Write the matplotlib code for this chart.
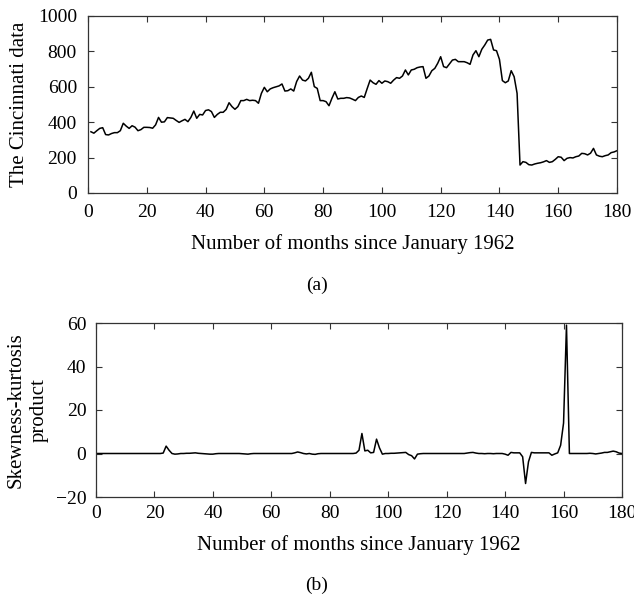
import numpy as np
import matplotlib.pyplot as plt

plt.rcParams['font.family'] = ['Liberation Serif', 'DejaVu Serif']
plt.rcParams['font.size'] = 14

# Monthly Cincinnati data, months 1..180
months_a = np.arange(1, 181)
cincinnati = [
    346, 338, 352, 365, 369, 330, 328, 336, 341, 341,
    352, 394, 378, 365, 380, 372, 352, 358, 371, 371,
    370, 366, 385, 427, 400, 402, 426, 424, 422, 410,
    399, 408, 416, 403, 427, 463, 422, 444, 441, 466,
    470, 460, 427, 444, 456, 456, 472, 510, 488, 473,
    488, 522, 522, 529, 522, 524, 522, 507, 563, 597,
    572, 588, 595, 600, 605, 616, 576, 578, 588, 576,
    630, 661, 638, 633, 648, 682, 601, 591, 522, 522,
    516, 493, 535, 572, 531, 535, 535, 539, 537, 530,
    522, 540, 548, 540, 590, 638, 623, 614, 635, 620,
    633, 629, 620, 638, 652, 648, 661, 695, 667, 695,
    699, 708, 712, 714, 648, 661, 691, 704, 733, 770,
    714, 708, 729, 751, 755, 742, 742, 742, 736, 727,
    780, 804, 770, 812, 836, 864, 868, 808, 804, 755,
    635, 623, 633, 691, 657, 563, 158, 177, 173, 160,
    158, 164, 168, 171, 176, 183, 173, 177, 190, 205,
    202, 183, 196, 200, 198, 205, 209, 224, 222, 215,
    225, 252, 215, 208, 205, 211, 215, 228, 232, 239,
]

# Skewness-kurtosis product, months 0..180
months_b = np.arange(0, 181)
sk_product = [
    0, 0, 0, 0, 0, 0, 0, 0, 0, 0,
    0, 0, 0, 0, 0, 0, 0, 0, 0, 0,
    0, 0, 0, 0.2, 3.4, 1.5, 0, -0.3, -0.2, 0,
    0, 0.1, 0.1, 0.2, 0.3, 0.1, 0, -0.1, -0.2, -0.3,
    -0.3, -0.1, 0, 0, 0, 0, 0, 0, 0, 0,
    -0.1, -0.2, -0.3, -0.1, 0, 0, 0, 0, 0, 0,
    0, 0, 0, 0, 0, 0, 0, 0, 0.3, 0.7,
    0.4, 0, -0.2, 0, -0.3, -0.4, -0.1, 0, 0, 0,
    0, 0, 0, 0, 0, 0, 0, 0, 0, 0.2,
    1.5, 9.2, 1.2, 1.5, 0.3, 0.5, 6.6, 2.6, -0.3, 0,
    0, 0.1, 0.1, 0.2, 0.3, 0.4, 0.5, -0.5, -1.0, -2.5,
    -0.3, -0.1, 0, 0, 0, 0, 0, 0, 0, 0,
    0, 0, 0, 0, 0, 0, 0, 0.2, 0.4, 0.5,
    0.2, 0, 0, -0.1, 0, 0, -0.1, 0, 0, 0,
    -0.3, -0.8, 0.5, 0.3, 0.3, 0.3, -1.5, -13.8, -3.8, 0.5,
    0.3, 0.3, 0.3, 0.3, 0.3, 0.3, -0.8, -0.2, 0.3, 3.8,
    14, 59, 0, 0, 0, 0, 0, 0, 0, 0.1,
    0, -0.2, 0, 0.2, 0.5, 0.5, 0.8, 1.1, 0.8, 0.2,
    0,
]

xlabel = 'Number of months since January 1962'

fig = plt.figure(figsize=(6.34, 6.01), dpi=100)
ax1 = fig.add_axes([88/634, 1 - 193/601, 529/634, 177/601])
ax2 = fig.add_axes([96/634, 1 - 497/601, 526/634, 174/601])

for ax in (ax1, ax2):
    ax.tick_params(direction='in', top=True, right=True, length=4,
                   width=0.8, color='#333333')
    for s in ax.spines.values():
        s.set_color('#333333')
        s.set_linewidth(0.9)

# (a) data
ax1.plot(months_a, cincinnati, color='black', linewidth=1.1)
ax1.set_xlim(0, 180)
ax1.set_ylim(0, 1000)
ax1.set_xticks(np.arange(0, 181, 20))
ax1.set_yticks(np.arange(0, 1001, 200))
ax1.tick_params(axis='x', pad=8)
ax1.tick_params(axis='y', pad=8)
ax1.set_xlabel(xlabel, labelpad=9, fontsize=15)
ax1.set_ylabel('The Cincinnati data', labelpad=6, fontsize=15)

# (b) skewness-kurtosis product
ax2.plot(months_b, sk_product, color='black', linewidth=1.1)
ax2.set_xlim(0, 180)
ax2.set_ylim(-20, 60)
ax2.set_xticks(np.arange(0, 181, 20))
ax2.set_yticks(np.arange(-20, 61, 20))
ax2.tick_params(axis='x', pad=6)
ax2.tick_params(axis='y', pad=7)
ax2.set_xlabel(xlabel, labelpad=9, fontsize=15)
ax2.set_ylabel('Skewness-kurtosis\nproduct', labelpad=5, fontsize=15,
               linespacing=1.3)

fig.text(317/634, 1 - 285/601, '(a)', ha='center', va='center', fontsize=14)
fig.text(317/634, 1 - 585/601, '(b)', ha='center', va='center', fontsize=14)

fig.savefig('out.png', dpi=100)
